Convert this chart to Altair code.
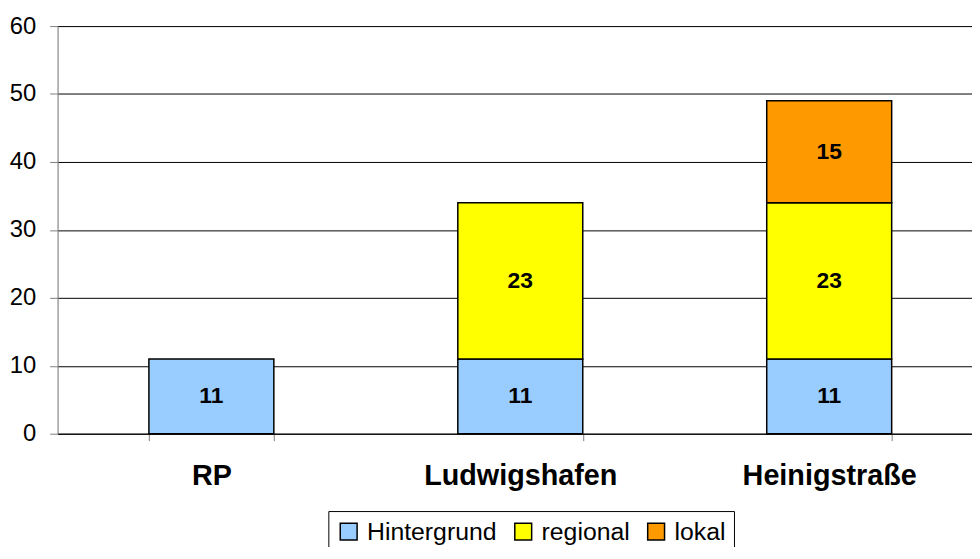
import altair as alt
import pandas as pd

categories = ["RP", "Ludwigshafen", "Heinigstraße"]
series = ["Hintergrund", "regional", "lokal"]
hintergrund = [11, 11, 11]
regional = [0, 23, 23]
lokal = [0, 0, 15]
colors = ["#99CCFF", "#FFFF00", "#FF9900"]

rows = []
for i, c in enumerate(categories):
    for j, (s, vals) in enumerate(zip(series, [hintergrund, regional, lokal])):
        if vals[i] > 0:
            rows.append({"cat": c, "series": s, "order": j, "value": vals[i]})
df = pd.DataFrame(rows)

FONT = "Liberation Sans"

base = alt.Chart(df).transform_stack(
    stack="value", groupby=["cat"], as_=["y0", "y1"], sort=[alt.SortField("order")]
).transform_calculate(mid="(datum.y0 + datum.y1) / 2")

x = alt.X(
    "cat:N",
    sort=categories,
    title=None,
    scale=alt.Scale(paddingInner=0.5955, paddingOuter=0.2778, align=0.532),
    axis=alt.Axis(
        labelFont=FONT, labelFontSize=29, labelFontWeight="bold", labelColor="black",
        labelAngle=0, labelPadding=21, tickSize=7, tickColor="#808080",
        tickBand="extent", domainColor="black", grid=False, labelBaseline="top",
        labelLimit=0,
    ),
)

y_scale = alt.Scale(domain=[0, 60], nice=False)

bars = base.mark_bar(stroke="black", strokeWidth=1.5).encode(
    x=x,
    y=alt.Y(
        "y0:Q", scale=y_scale, title=None,
        axis=alt.Axis(
            values=[0, 10, 20, 30, 40, 50, 60], labelFont=FONT, labelFontSize=24,
            labelColor="black", tickSize=8, tickColor="#808080", labelPadding=14,
            domainColor="#808080", gridColor="black", gridWidth=1, gridOpacity=1,
        ),
    ),
    y2="y1:Q",
    color=alt.Color(
        "series:N",
        scale=alt.Scale(domain=series, range=colors),
        legend=alt.Legend(
            title=None, orient="none", direction="horizontal", legendX=273, legendY=489,
            symbolType="square", symbolSize=289, symbolStrokeColor="black",
            symbolStrokeWidth=1.5, labelFont=FONT, labelFontSize=25, labelColor="black",
            labelOffset=6, columnPadding=14, padding=8, strokeColor="black",
            fillColor="white",
        ),
    ),
    order=alt.Order("order:Q"),
)

labels = base.mark_text(font=FONT, fontSize=23, fontWeight="bold", color="black").encode(
    x=x,
    y=alt.Y("mid:Q", scale=y_scale),
    text="value:Q",
)

chart = alt.layer(bars, labels).properties(
    width=922, height=411,
    autosize=alt.AutoSizeParams(type="none"),
    padding={"left": 50, "top": 16, "right": 0, "bottom": 112},
).configure_view(stroke=None).configure(background="white")

chart.save("out.html", embed_options={"renderer": "svg", "actions": False})
